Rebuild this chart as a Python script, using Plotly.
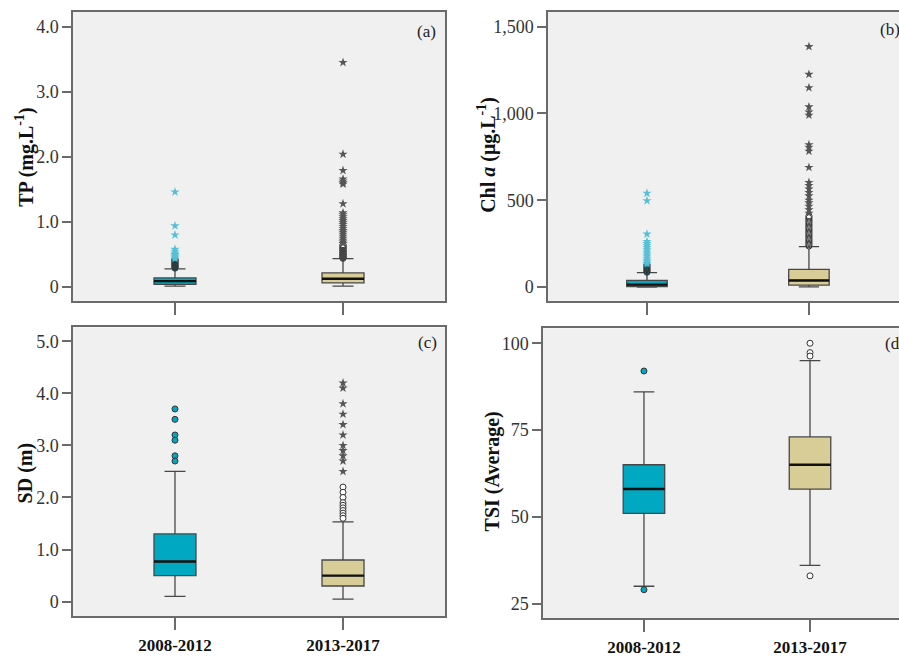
import plotly.graph_objects as go

W, H = 899, 657

categories = ["2008-2012", "2013-2017"]

# ---- Panel (a) TP (mg/L) ----
tp_q1 = [0.04, 0.065]
tp_median = [0.09, 0.126]
tp_q3 = [0.14, 0.217]
tp_low = [0.015, 0.015]
tp_high = [0.28, 0.435]
tp_circ_1 = [0.29, 0.30, 0.31, 0.32, 0.33, 0.34, 0.35, 0.36, 0.37, 0.38, 0.39, 0.40, 0.41, 0.42, 0.43]
tp_star_1 = [1.46, 0.94, 0.80, 0.58, 0.55, 0.52, 0.50, 0.48, 0.46, 0.44]
tp_circ_2 = [0.44, 0.45, 0.46, 0.47, 0.48, 0.49, 0.50, 0.51, 0.52, 0.53, 0.54, 0.55,
             0.56, 0.57, 0.58, 0.59, 0.60, 0.61, 0.62, 0.63, 0.64, 0.65]
tp_star_2 = [3.45, 2.04, 1.79, 1.66, 1.63, 1.60, 1.58, 1.28, 1.14, 1.11, 1.08, 1.05,
             1.02, 0.99, 0.96, 0.93, 0.90, 0.87, 0.84, 0.81, 0.78, 0.75, 0.72, 0.69, 0.67]

# ---- Panel (b) Chl a (ug/L) ----
chl_q1 = [2, 11]
chl_median = [14, 38]
chl_q3 = [38, 102]
chl_low = [0, 1]
chl_high = [83, 233]
chl_circ_1 = [85, 90, 95, 100, 105, 110, 115, 120, 125, 130]
chl_star_1 = [540, 497, 305, 262, 250, 238, 226, 214, 202, 190, 178, 166, 155, 145, 136]
chl_circ_2 = [236, 243, 250, 257, 264, 271, 278, 285, 292, 299, 306, 313, 320, 327, 334,
              341, 348, 355, 362, 369, 376, 383, 390, 397, 404, 410]
chl_star_2 = [1385, 1225, 1148, 1038, 1008, 990, 820, 805, 782, 689, 602, 585, 565, 545,
              525, 500, 485, 465, 445, 425]

# ---- Panel (c) SD (m) ----
sd_q1 = [0.5, 0.3]
sd_median = [0.77, 0.5]
sd_q3 = [1.3, 0.8]
sd_low = [0.1, 0.05]
sd_high = [2.5, 1.53]
sd_circ_1 = [3.7, 3.5, 3.2, 3.1, 2.8, 2.7]
sd_star_1 = []
sd_circ_2 = [2.2, 2.1, 2.0, 1.9, 1.85, 1.8, 1.75, 1.7, 1.65, 1.6]
sd_star_2 = [4.2, 4.1, 3.8, 3.6, 3.4, 3.2, 3.0, 2.9, 2.8, 2.7, 2.5]

# ---- Panel (d) TSI (Average) ----
tsi_q1 = [51, 58]
tsi_median = [58, 65]
tsi_q3 = [65, 73]
tsi_low = [30, 36]
tsi_high = [86, 95]
tsi_circ_1 = [92, 29]
tsi_star_1 = []
tsi_circ_2 = [100, 97.3, 96.3, 33]
tsi_star_2 = []

# tick labels
tp_tickvals = [0, 1, 2, 3, 4]
tp_ticktext = ["0", "1.0", "2.0", "3.0", "4.0"]
chl_tickvals = [0, 500, 1000, 1500]
chl_ticktext = ["0", "500", "1,000", "1,500"]
sd_tickvals = [0, 1, 2, 3, 4, 5]
sd_ticktext = ["0", "1.0", "2.0", "3.0", "4.0", "5.0"]
tsi_tickvals = [25, 50, 75, 100]
tsi_ticktext = ["25", "50", "75", "100"]

titles = ["TP (mg.L<sup>-1</sup>)", "Chl <i>a</i> (μg.L<sup>-1</sup>)", "SD (m)", "TSI (Average)"]
panel_tags = ["(a)", "(b)", "(c)", "(d)"]

FILL = ["#00A8C1", "#D8CC97"]
STAR_COL = ["#58C0D6", "#555555"]
CIRC_FILL = ["#00A8C1", "#FFFFFF"]
LINE = "#474747"
SERIF = "Liberation Serif"
BOXW = 0.25


def px_x(p):
    return p / W


def px_y(p):
    return 1 - p / H


panels = [
    dict(ax="", q1=tp_q1, med=tp_median, q3=tp_q3, lo=tp_low, hi=tp_high,
         circ=[tp_circ_1, tp_circ_2], star=[tp_star_1, tp_star_2],
         xdom=[px_x(73), px_x(445)], ydom=[px_y(305), px_y(12)],
         xr=[-0.607, 1.607], yr=[-0.212, 4.227], tv=tp_tickvals, tt=tp_ticktext,
         labels=False, mirror=True, title_xy=(25, 160), tag_xy=(426, 32), tag_anchor="center"),
    dict(ax="2", q1=chl_q1, med=chl_median, q3=chl_q3, lo=chl_low, hi=chl_high,
         circ=[chl_circ_1, chl_circ_2], star=[chl_star_1, chl_star_2],
         xdom=[px_x(548), 1.0], ydom=[px_y(305), px_y(12)],
         xr=[-0.611, 1.556], yr=[-79.5, 1585], tv=chl_tickvals, tt=chl_ticktext,
         labels=False, mirror=False, title_xy=(487, 157), tag_xy=(878, 30), tag_anchor="left"),
    dict(ax="3", q1=sd_q1, med=sd_median, q3=sd_q3, lo=sd_low, hi=sd_high,
         circ=[sd_circ_1, sd_circ_2], star=[sd_star_1, sd_star_2],
         xdom=[px_x(73), px_x(445)], ydom=[px_y(625), px_y(332)],
         xr=[-0.607, 1.607], yr=[-0.284, 5.265], tv=sd_tickvals, tt=sd_ticktext,
         labels=True, mirror=True, title_xy=(25, 480), tag_xy=(427, 347), tag_anchor="center"),
    dict(ax="4", q1=tsi_q1, med=tsi_median, q3=tsi_q3, lo=tsi_low, hi=tsi_high,
         circ=[tsi_circ_1, tsi_circ_2], star=[tsi_star_1, tsi_star_2],
         xdom=[px_x(543), 1.0], ydom=[px_y(627), px_y(333)],
         xr=[-0.608, 1.536], yr=[20.74, 104.26], tv=tsi_tickvals, tt=tsi_ticktext,
         labels=True, mirror=False, title_xy=(492, 478), tag_xy=(883, 348), tag_anchor="left"),
]

fig = go.Figure()
shapes = []
annotations = []

for k, p in enumerate(panels):
    xa = "x" + p["ax"]
    ya = "y" + p["ax"]
    for i, cat in enumerate(categories):
        fig.add_trace(go.Box(
            x=[cat], q1=[p["q1"][i]], median=[p["med"][i]], q3=[p["q3"][i]],
            lowerfence=[p["lo"][i]], upperfence=[p["hi"][i]],
            boxpoints=False, fillcolor=FILL[i], width=BOXW, whiskerwidth=0.5,
            line=dict(color=LINE, width=1.3), xaxis=xa, yaxis=ya, showlegend=False,
        ))
        # thick median line
        shapes.append(dict(type="line", xref=xa, yref=ya,
                           x0=i - BOXW / 2, x1=i + BOXW / 2,
                           y0=p["med"][i], y1=p["med"][i],
                           line=dict(color="#111111", width=2.4)))
        circ = p["circ"][i]
        if circ:
            fig.add_trace(go.Scatter(
                x=[cat] * len(circ), y=circ, mode="markers", xaxis=xa, yaxis=ya,
                showlegend=False,
                marker=dict(symbol="circle", size=6, color=CIRC_FILL[i],
                            line=dict(color="#333333", width=1)),
            ))
        star = p["star"][i]
        if star:
            fig.add_trace(go.Scatter(
                x=[cat] * len(star), y=star, mode="markers", xaxis=xa, yaxis=ya,
                showlegend=False,
                marker=dict(symbol="star", size=7, color=STAR_COL[i],
                            line=dict(color=STAR_COL[i], width=0)),
            ))

    fig.layout["xaxis" + p["ax"]] = dict(
        domain=p["xdom"], anchor=ya, type="category", categoryorder="array",
        categoryarray=categories, range=p["xr"], showgrid=False, zeroline=False,
        showline=True, linecolor="#6a6a6a", linewidth=1.5, mirror=True,
        ticks="outside", ticklen=12, tickwidth=1.5, tickcolor="#6a6a6a",
        showticklabels=p["labels"],
        tickfont=dict(family=SERIF, size=17, color="#111111", weight="bold"),
        fixedrange=True,
    )
    fig.layout["yaxis" + p["ax"]] = dict(
        domain=p["ydom"], anchor=xa, range=p["yr"], showgrid=False, zeroline=False,
        showline=True, linecolor="#6a6a6a", linewidth=1.5, mirror=p["mirror"],
        ticks="outside", ticklen=9, tickwidth=1.5, tickcolor="#6a6a6a",
        tickvals=p["tv"], ticktext=p["tt"],
        tickfont=dict(family=SERIF, size=18, color="#333333"),
        fixedrange=True,
    )
    tx, ty = p["title_xy"]
    annotations.append(dict(
        text=titles[k], xref="paper", yref="paper", x=px_x(tx), y=px_y(ty),
        xanchor="center", yanchor="middle", textangle=-90, showarrow=False,
        font=dict(family=SERIF, size=20, color="#111111", weight="bold"),
    ))
    gx, gy = p["tag_xy"]
    annotations.append(dict(
        text=panel_tags[k], xref="paper", yref="paper", x=px_x(gx), y=px_y(gy),
        xanchor=p["tag_anchor"], yanchor="middle", showarrow=False,
        font=dict(family=SERIF, size=17, color="#222222"),
    ))

fig.update_layout(
    width=W, height=H, margin=dict(l=0, r=0, t=0, b=0),
    paper_bgcolor="#FFFFFF", plot_bgcolor="#F0F0F0",
    shapes=shapes, annotations=annotations, showlegend=False,
)

fig.write_html(
    "out.html",
    config={"displayModeBar": False},
    post_script="document.body.style.margin='0';document.body.style.overflow='hidden';",
)
